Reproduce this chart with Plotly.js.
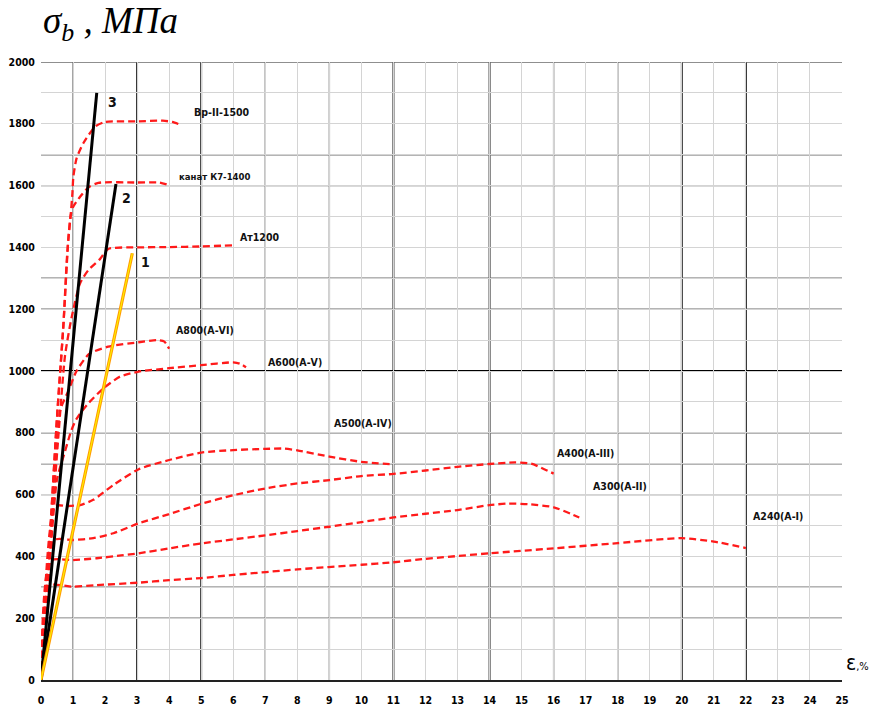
<!DOCTYPE html>
<html>
<head>
<meta charset="utf-8">
<script src="https://cdn.plot.ly/plotly-3.0.1.min.js"></script>
<style>html,body{margin:0;padding:0;background:#fff;}#chart{width:874px;height:708px;}</style>
</head>
<body>
<div id="chart"></div>
<script>
// ---- Data (strain ε, % ; stress σ, MPa) ----
const bpX  = [0, 0.3, 0.5, 0.7, 0.8, 0.85, 0.93, 0.98, 1.01, 1.11, 1.32, 1.69, 2.0, 3.0, 3.8, 4.1, 4.35];
const bpY  = [0, 500, 850, 1150, 1350, 1424, 1510, 1575, 1629, 1688, 1737, 1791, 1806, 1808, 1810, 1806, 1797];

const k7X  = [0, 0.3, 0.5, 0.7, 0.85, 0.93, 1.01, 1.22, 1.48, 1.79, 3.0, 3.7, 3.97];
const k7Y  = [0, 500, 850, 1150, 1420, 1505, 1532, 1564, 1594, 1609, 1610, 1610, 1602];

const at12X = [0, 0.3, 0.55, 0.75, 0.96, 1.22, 1.48, 1.84, 2.1, 3, 4, 5, 6];
const at12Y = [0, 450, 800, 1050, 1176, 1284, 1327, 1362, 1395, 1400, 1401, 1403, 1407];

const a800X = [0, 0.3, 0.5, 0.6, 0.85, 1.11, 1.5, 2.1, 3.05, 3.6, 3.85, 4.0];
const a800Y = [0, 450, 760, 874, 935, 1000, 1055, 1079, 1093, 1100, 1095, 1072];

const a600X = [0, 0.3, 0.5, 0.75, 0.95, 1.11, 1.43, 1.95, 2.47, 3.05, 4, 5, 6, 6.2, 6.4];
const a600Y = [0, 420, 650, 740, 809, 845, 890, 944, 982, 998, 1009, 1019, 1028, 1024, 1012];

const a500X = [0, 0.44, 0.8, 1.22, 1.63, 2.26, 3.05, 4, 5, 6, 7, 7.6, 8, 9, 10, 11];
const a500Y = [0, 563, 563, 566, 583, 631, 682, 712, 736, 744, 748, 749, 743, 723, 706, 698];

const a400X = [0, 0.42, 1, 1.63, 2.26, 3.05, 4, 5, 6, 7, 8, 9, 10, 11, 12, 13, 14, 14.8, 15.3, 16];
const a400Y = [0, 453, 453, 459, 475, 507, 537, 570, 598, 620, 636, 647, 660, 667, 678, 690, 699, 704, 700, 668];

const a300X = [0, 0.3, 1, 1.74, 2.5, 3.05, 4, 5, 6, 7, 8, 9, 10, 11, 12, 13, 14, 14.6, 15.2, 16, 16.8];
const a300Y = [0, 386, 388, 394, 403, 410, 426, 442, 455, 468, 482, 496, 511, 526, 538, 550, 566, 571, 569, 559, 526];

const a240X = [0, 0.27, 1, 1.74, 3.05, 4, 5, 6, 8, 10, 11, 12, 14, 16, 18, 20, 21, 22];
const a240Y = [0, 305, 302, 307, 315, 323, 330, 340, 358, 373, 381, 392, 410, 426, 443, 459, 448, 427];

const line3X = [0, 1.74]; const line3Y = [0, 1900];
const line2X = [0, 2.34]; const line2Y = [0, 1605];
const line1X = [0, 2.85]; const line1Y = [0, 1381];

const curveLabels = ["Вр-II-1500", "канат К7-1400", "Ат1200", "А800(А-VI)", "А600(А-V)", "А500(А-IV)", "А400(А-III)", "А300(А-II)", "А240(А-I)"];
const curveLabelX = [5.65, 5.43, 6.84, 5.12, 7.93, 10.05, 16.98, 18.07, 23.0];
const curveLabelY = [1838, 1631, 1434, 1133, 1029, 832, 735, 628, 531];

const lineLabels = ["3", "2", "1"];
const lineLabelX = [2.22, 2.68, 3.25];
const lineLabelY = [1871, 1560, 1353];

const xTicks = [0,1,2,3,4,5,6,7,8,9,10,11,12,13,14,15,16,17,18,19,20,21,22,23,24,25];
const yTicks = [0,200,400,600,800,1000,1200,1400,1600,1800,2000];

// ---- Styling ----
const RED = '#ff1a1a';
const narrow = 'Liberation Sans Narrow, DejaVu Sans Condensed, Arial Narrow, sans-serif';

function redCurve(x, y) {
  return {x: x, y: y, type: 'scatter', mode: 'lines', hoverinfo: 'skip',
    line: {color: RED, width: 2.3, dash: '7px,4px', shape: 'spline', smoothing: 0.6}};
}
const traces = [
  redCurve(bpX, bpY), redCurve(k7X, k7Y), redCurve(at12X, at12Y), redCurve(a800X, a800Y),
  redCurve(a600X, a600Y), redCurve(a500X, a500Y), redCurve(a400X, a400Y),
  redCurve(a300X, a300Y), redCurve(a240X, a240Y),
  {x: line3X, y: line3Y, mode: 'lines', line: {color: '#000', width: 3}, hoverinfo: 'skip'},
  {x: line2X, y: line2Y, mode: 'lines', line: {color: '#000', width: 3}, hoverinfo: 'skip'},
  {x: line1X, y: line1Y, mode: 'lines', line: {color: '#ff9900', width: 3.2}, hoverinfo: 'skip'},
  {x: line1X, y: line1Y, mode: 'lines', line: {color: '#ffee00', width: 1.2}, hoverinfo: 'skip'}
];

// grid emphasis lines (styling only)
const darkV = [3, 5, 11, 14, 20, 22];
const midV = [1, 7, 9, 16, 18];
const darkH = [1000];
const midH = [2000, 1700, 1600, 1300, 1200, 800, 700, 600, 300, 200];
const shapes = [];
darkV.forEach(v => shapes.push({type: 'line', layer: 'between', xref: 'x', yref: 'paper', x0: v, x1: v, y0: 0, y1: 1, line: {color: '#000', width: 1.8}}));
midV.forEach(v => shapes.push({type: 'line', layer: 'between', xref: 'x', yref: 'paper', x0: v, x1: v, y0: 0, y1: 1, line: {color: '#777', width: 1.4}}));
darkH.forEach(v => shapes.push({type: 'line', layer: 'between', xref: 'paper', yref: 'y', x0: 0, x1: 1, y0: v, y1: v, line: {color: '#000', width: 1.8}}));
midH.forEach(v => shapes.push({type: 'line', layer: 'between', xref: 'paper', yref: 'y', x0: 0, x1: 1, y0: v, y1: v, line: {color: '#6a6a6a', width: 1.4}}));

const annotations = [];
curveLabels.forEach((t, i) => annotations.push({x: curveLabelX[i], y: curveLabelY[i], xref: 'x', yref: 'y', text: t, showarrow: false,
  font: {family: narrow, size: i === 1 ? 9.5 : 10.5, color: '#111', weight: 'bold'}}));
lineLabels.forEach((t, i) => annotations.push({x: lineLabelX[i], y: lineLabelY[i], xref: 'x', yref: 'y', text: t, showarrow: false,
  font: {family: narrow, size: 14, color: '#111', weight: 'bold'}}));
annotations.push({xref: 'paper', yref: 'paper', x: 0.0, y: 1.062, xanchor: 'left', yanchor: 'middle', showarrow: false,
  text: '<i>σ<sub>b</sub> , МПа</i>', font: {family: 'Liberation Serif, Times New Roman, serif', size: 37, color: '#000'}});
annotations.push({xref: 'paper', yref: 'paper', x: 1.003, y: 0.028, xanchor: 'left', yanchor: 'middle', showarrow: false,
  text: '<span style="font-size:21px">ε</span>,%', font: {family: narrow, size: 11, color: '#000'}});

const layout = {
  width: 874, height: 708,
  margin: {l: 41, r: 32, t: 62, b: 28},
  paper_bgcolor: '#fff', plot_bgcolor: '#fff',
  showlegend: false,
  xaxis: {range: [0, 25], tickvals: xTicks, ticktext: xTicks.map(String), showgrid: true, gridcolor: '#d4d4d4', gridwidth: 1,
    zeroline: false, showline: true, linecolor: '#222', linewidth: 2, ticks: 'outside', ticklen: 9, tickcolor: 'rgba(0,0,0,0)',
    tickfont: {family: narrow, size: 10.5, color: '#000', weight: 'bold'}, fixedrange: true},
  yaxis: {range: [0, 2000], tickvals: yTicks, ticktext: yTicks.map(String), showgrid: true, gridcolor: '#d4d4d4', gridwidth: 1,
    zeroline: false, showline: false, ticks: 'outside', ticklen: 3, tickcolor: 'rgba(0,0,0,0)',
    minor: {dtick: 100, showgrid: true, gridcolor: '#d4d4d4', gridwidth: 1},
    tickfont: {family: narrow, size: 10.5, color: '#000', weight: 'bold'}, fixedrange: true},
  shapes: shapes,
  annotations: annotations
};

Plotly.newPlot('chart', traces, layout, {staticPlot: true, displayModeBar: false});
</script>
</body>
</html>
